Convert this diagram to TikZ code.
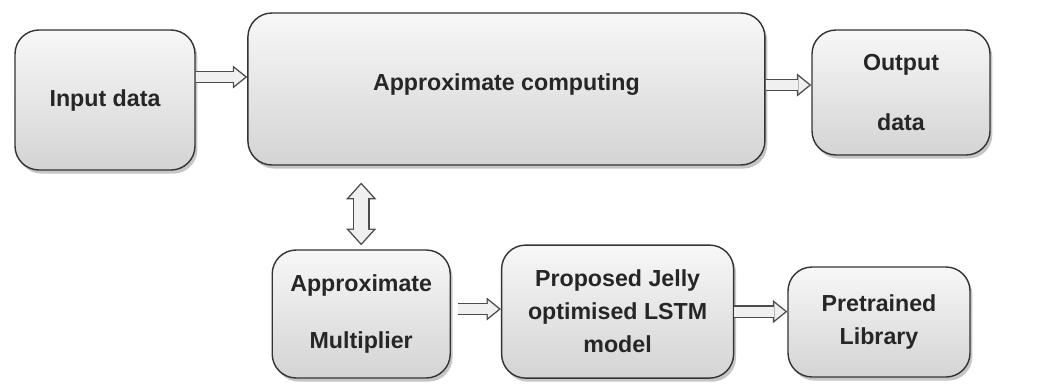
\documentclass[tikz,border=0pt]{standalone}
\usepackage{fontspec}
\setmainfont{Liberation Sans}
\usepackage{tikz}
\usetikzlibrary{positioning,arrows.meta,shadows,calc}

\begin{document}
\begin{tikzpicture}[
    bloc/.style={draw=black!80,line width=1pt,rounded corners=0.6cm,top color=gray!6,bottom color=gray!34,
      drop shadow={shadow xshift=0.06cm,shadow yshift=-0.09cm,opacity=0.45},
      align=center,font=\fontsize{16.5}{23.5}\selectfont\bfseries,text=black!85},
    fleche/.style={line width=0.32cm,draw=black!70,-{Triangle[length=0.36cm,width=0.58cm,line width=0pt]},
      postaction={draw=gray!12,line width=0.25cm,shorten >=0.056cm,-{Triangle[length=0.27cm,width=0.435cm,line width=0pt]}}},
    flechedouble/.style={line width=0.42cm,draw=black!70,shorten <=0.1cm,shorten >=0.42cm,
      {Triangle[length=0.42cm,width=0.76cm,line width=0pt]}-{Triangle[length=0.42cm,width=0.76cm,line width=0pt]},
      postaction={draw=gray!12,line width=0.35cm,shorten <=0.152cm,shorten >=0.472cm,
        {Triangle[length=0.333cm,width=0.6cm,line width=0pt]}-{Triangle[length=0.333cm,width=0.6cm,line width=0pt]}}}]
    \useasboundingbox (0,0) rectangle (26.075,-9.575);
    % Schéma du flot de calcul approché
    \node[bloc,minimum width=4.5cm,minimum height=3.5cm] (entree) at (2.625,-2.5) {Input data};
    \node[bloc,minimum width=12.925cm,minimum height=3.8cm,text depth=0.35cm] (calcul) at (12.66,-2.225) {Approximate computing};
    \node[bloc,minimum width=4.45cm,minimum height=3.125cm] (sortie) at (22.525,-2.3125) {Output\\[19pt] data};
    \node[bloc,minimum width=4.45cm,minimum height=3.2cm] (mult) at (9.03,-7.85) {Approximate\\[17pt] Multiplier};
    \node[bloc,minimum width=5.8cm,minimum height=3.325cm] (jelly) at (15.44,-7.79) {Proposed Jelly\\optimised LSTM\\model};
    \node[bloc,minimum width=4.55cm,minimum height=2.75cm] (biblio) at (21.975,-8.05) {Pretrained\\Library};

    \draw[fleche] ([yshift=0.575cm]entree.east) -- ([yshift=0.575cm]entree.east -| calcul.west);
    \draw[fleche] ([yshift=0.1cm]calcul.east) -- ([yshift=0.1cm]calcul.east -| sortie.west);
    \draw[flechedouble] (mult.north) -- (mult.north |- calcul.south);
    \draw[fleche,shorten <=0.18cm] ([yshift=0.125cm]mult.east) -- ([yshift=0.125cm]mult.east -| jelly.west);
    \draw[fleche] (jelly.east) -- (jelly.east -| biblio.west);
\end{tikzpicture}
\end{document}
